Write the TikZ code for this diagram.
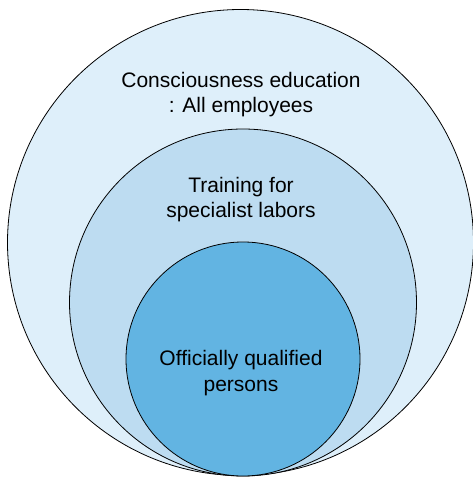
\documentclass[tikz,border=0pt]{standalone}
\usepackage{fontspec}
\setmainfont{Liberation Sans}
\definecolor{outerfill}{RGB}{222,239,250}
\definecolor{middlefill}{RGB}{189,220,241}
\definecolor{innerfill}{RGB}{98,180,226}
\begin{document}
\begin{tikzpicture}[x=1pt,y=-1pt,
  ring/.style={draw=black,line width=0.8pt,circle,inner sep=0pt},
  caption/.style={align=center,anchor=base,inner sep=0pt,
    font=\fontsize{21}{25.5}\selectfont}]
  \useasboundingbox (0,0) rectangle (473,477);
  % nested circles, all touching at the bottom
  \node[ring,fill=outerfill,minimum size=466pt] (outer) at (240.5,242.5) {};
  \node[ring,fill=middlefill,minimum size=347pt] (middle) at (243,302.5) {};
  \node[ring,fill=innerfill,minimum size=234pt] (inner) at (243,359) {};
  % labels (anchored at the baseline of their last line)
  \node[caption] (t1) at (241,112.7) {Consciousness education\\: All employees};
  \node[caption] (t2) at (241,217.5) {Training for\\specialist labors};
  \node[caption] (t3) at (241,391) {Officially qualified\\persons};
\end{tikzpicture}
\end{document}
